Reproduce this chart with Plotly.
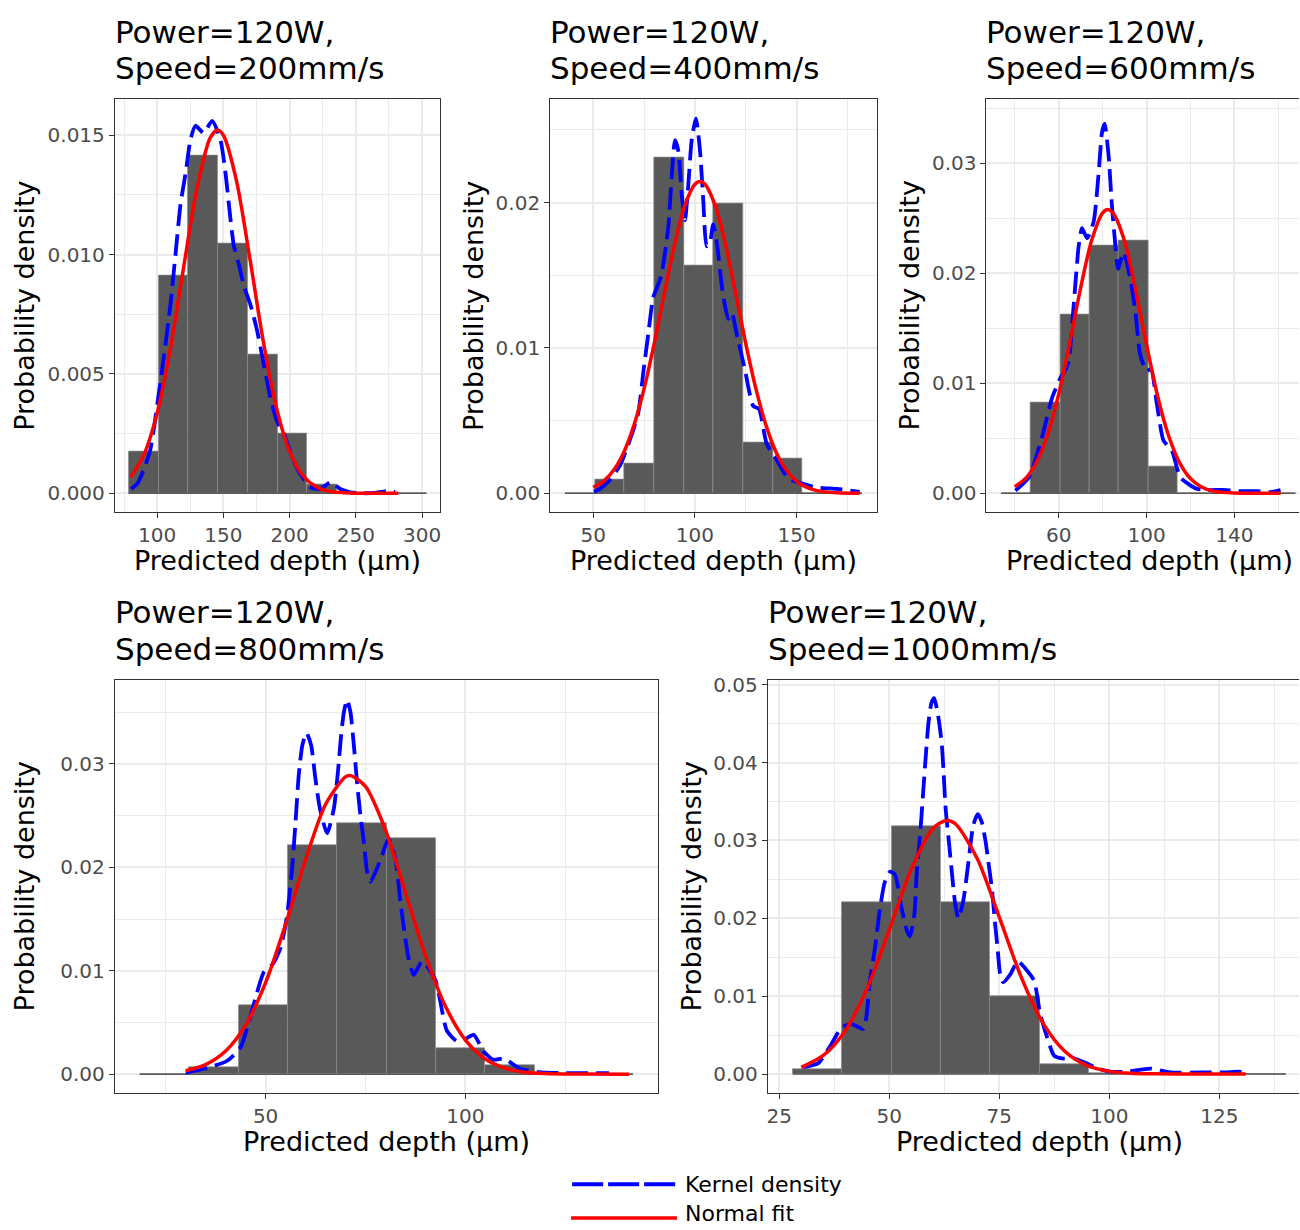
import plotly.graph_objects as go

W, H = 1300, 1230
FONT = "DejaVu Sans"

# ---------------- text ----------------
title_power = "Power=120W,"
title_speeds = ["Speed=200mm/s", "Speed=400mm/s", "Speed=600mm/s",
                "Speed=800mm/s", "Speed=1000mm/s"]
x_title = "Predicted depth (µm)"
y_title = "Probability density"
legend_labels = ["Kernel density", "Normal fit"]

# ---------------- data: Speed = 200 mm/s ----------------
hist_edges_200 = [78.5, 101.0, 123.4, 145.9, 168.4, 190.9, 213.3, 235.8, 258.3, 280.8, 303.3]
hist_dens_200 = [0.00175, 0.00913, 0.01417, 0.01047, 0.00583, 0.00251, 0.00038, 0.0, 0.0, 0.0]
kde_x_200 = [80.3, 85, 89.9, 94.9, 100, 105, 110, 113.8, 117.6, 121.4, 125.1, 128.9, 135,
             141.5, 147.8, 151.6, 155.3, 157.8, 161.6, 165.4, 170.4, 175.5, 180.5, 185.5,
             190.6, 195.6, 201.9, 208.2, 215.7, 223.3, 230.8, 238.3, 245.9, 255, 265, 272,
             277, 279.5]
kde_y_200 = [0.00018, 0.0004, 0.0010, 0.00185, 0.0037, 0.0057, 0.0079, 0.0100, 0.0121,
             0.0134, 0.0148, 0.0154, 0.0151, 0.0156, 0.0148, 0.0134, 0.0115, 0.0104, 0.0096,
             0.0087, 0.0079, 0.0068, 0.0054, 0.0040, 0.0030, 0.0025, 0.0015, 0.0008,
             0.00025, 0.00018, 0.00046, 0.00018, 0.00004, 0.0, 0.00002, 0.00008, 0.0001,
             0.00005]
norm_x_200 = [80, 90, 100, 110, 120, 130, 140, 145.5, 150, 160, 170, 180, 190, 200, 210,
              220, 230, 245, 260, 282]
norm_y_200 = [0.00067, 0.00162, 0.00337, 0.00608, 0.00948, 0.01277, 0.01489, 0.01522,
              0.01500, 0.01306, 0.00983, 0.00640, 0.00360, 0.00175, 0.00074, 0.00027,
              0.00008, 0.00001, 0.0, 0.0]

# ---------------- data: Speed = 400 mm/s ----------------
hist_edges_400 = [36.1, 50.7, 65.3, 79.9, 94.5, 109.1, 123.7, 138.3, 152.9, 167.5, 182.1]
hist_dens_400 = [0.0, 0.00092, 0.00208, 0.02312, 0.01566, 0.01997, 0.00347, 0.0024, 0.0, 0.0]
kde_x_400 = [50.3, 53.3, 58, 63.1, 68.1, 72.1, 74.6, 77.1, 79.5, 81.2, 83.5, 86.9, 88.6,
             90.2, 91.8, 93.5, 95.1, 96.7, 98.4, 100.5, 102.5, 104.1, 105.8, 107.3, 109,
             111, 113.5, 116.4, 118.2, 120.5, 124.6, 128.7, 131.5, 135.3, 140.2, 146, 152,
             160, 170, 181]
kde_y_400 = [0.0001, 0.0003, 0.0009, 0.0019, 0.0037, 0.0055, 0.0083, 0.0110, 0.0135,
             0.0141, 0.0150, 0.0183, 0.0218, 0.0243, 0.0236, 0.0206, 0.0188, 0.0211,
             0.0243, 0.0258, 0.0236, 0.0202, 0.0170, 0.0172, 0.0185, 0.0170, 0.0140,
             0.0120, 0.0124, 0.0110, 0.0085, 0.0060, 0.0058, 0.0034, 0.0023, 0.0010,
             0.0007, 0.0004, 0.0003, 0.0001]
norm_x_400 = [50, 55, 60, 65, 70, 75, 80, 85, 90, 95, 100, 102.5, 105, 110, 115, 120, 125,
              130, 135, 140, 145, 150, 155, 160, 170, 181]
norm_y_400 = [0.0004, 0.00082, 0.00158, 0.00281, 0.00467, 0.0072, 0.01032, 0.01378,
              0.01712, 0.01979, 0.02127, 0.02146, 0.02127, 0.01979, 0.01712, 0.01378,
              0.01032, 0.0072, 0.00467, 0.00281, 0.00158, 0.00082, 0.0004, 0.00018,
              0.00003, 0.0]

# ---------------- data: Speed = 600 mm/s ----------------
hist_edges_600 = [33.8, 47.2, 60.6, 74.0, 87.4, 100.8, 114.2, 127.6, 141.0, 154.4, 167.8]
hist_dens_600 = [0.0, 0.00823, 0.01628, 0.02252, 0.02297, 0.00247, 0.0, 0.0, 0.0, 0.0]
kde_x_600 = [40.3, 46.4, 52.4, 57, 60.8, 62.5, 64.5, 66.8, 69.1, 70.6, 72.9, 75.9, 78.2,
             79.7, 80.9, 82.7, 84.2, 85.8, 87, 89.5, 92.6, 94.9, 97.1, 100.1, 102, 104.7,
             107.7, 111.5, 115.3, 119.1, 123, 128, 135, 142, 150, 156, 161]
kde_y_600 = [0.00024, 0.00145, 0.0051, 0.0087, 0.0105, 0.0110, 0.0120, 0.0171, 0.0225,
             0.0241, 0.0232, 0.0247, 0.0292, 0.0328, 0.0336, 0.0307, 0.0262, 0.0225,
             0.0204, 0.0219, 0.0195, 0.0165, 0.0126, 0.0111, 0.0113, 0.0081, 0.0048,
             0.0039, 0.00145, 0.00084, 0.0004, 0.0003, 0.0003, 0.0002, 0.0002, 0.0001,
             0.0003]
norm_x_600 = [40, 45, 50, 55, 60, 65, 70, 75, 80, 82.4, 85, 90, 95, 100, 105, 110, 115,
              120, 125, 130, 140, 150, 161]
norm_y_600 = [0.0006, 0.00138, 0.00287, 0.00536, 0.00903, 0.0137, 0.0187, 0.0230, 0.0255,
              0.0258, 0.0254, 0.0229, 0.0185, 0.0135, 0.00886, 0.00525, 0.00279, 0.00134,
              0.00058, 0.00022, 0.00002, 0.0, 0.0]

# ---------------- data: Speed = 800 mm/s ----------------
hist_edges_800 = [18.5, 30.85, 43.2, 55.55, 67.9, 80.25, 92.6, 104.95, 117.3, 129.65, 142.0]
hist_dens_800 = [0.0, 0.0007, 0.00667, 0.02214, 0.02431, 0.02284, 0.00256, 0.00085, 0.0, 0.0]
kde_x_800 = [30, 35.4, 40.4, 43.75, 45.4, 47.5, 49.6, 51.7, 53.75, 55.4, 56.7, 57.5, 58.3,
             59.2, 60.25, 61.4, 62.5, 63.6, 65.4, 67.1, 68.1, 68.9, 69.6, 70.4, 71.25,
             72.1, 72.9, 73.75, 74.6, 75.4, 76.25, 77.9, 79.2, 80.8, 82.5, 83.75, 85, 85.8,
             87.1, 89.2, 92.5, 95.4, 97.9, 100, 102.1, 104.6, 107, 109.8, 113.6, 118.4,
             125, 136]
kde_y_800 = [0.00015, 0.0006, 0.0013, 0.0026, 0.0045, 0.0074, 0.0099, 0.0106, 0.0122,
             0.0154, 0.0202, 0.0244, 0.0289, 0.0318, 0.0330, 0.0318, 0.0285, 0.0257,
             0.0233, 0.0257, 0.0292, 0.0327, 0.0350, 0.0362, 0.0350, 0.0318, 0.0282,
             0.0250, 0.0225, 0.0196, 0.0186, 0.0199, 0.0212, 0.0228, 0.0208, 0.0167,
             0.0131, 0.0112, 0.0096, 0.0109, 0.0091, 0.0042, 0.0032, 0.0034, 0.0038,
             0.0022, 0.0014, 0.0015, 0.00055, 0.0002, 0.0001, 0.0001]
norm_x_800 = [30, 35, 40, 45, 50, 55, 60, 65, 70, 71.25, 75, 80, 85, 90, 95, 100, 105, 110,
              115, 120, 130, 141]
norm_y_800 = [0.00034, 0.00093, 0.00224, 0.00475, 0.00885, 0.01447, 0.02073, 0.02607,
              0.02875, 0.02887, 0.02783, 0.02364, 0.0176, 0.0115, 0.00659, 0.00332,
              0.00146, 0.00057, 0.00019, 0.00006, 0.000005, 0.0]

# ---------------- data: Speed = 1000 mm/s ----------------
hist_edges_1000 = [28.1, 39.3, 50.5, 61.7, 72.9, 84.1, 95.3, 106.5, 117.7, 128.9, 140.1]
hist_dens_1000 = [0.0006, 0.0221, 0.0319, 0.0221, 0.00998, 0.00127, 0.0001, 0.0, 0.0, 0.0]
kde_x_1000 = [30.5, 33.9, 36.9, 39.2, 41.5, 44.1, 45.6, 46.75, 47.9, 49, 50.2, 51.3, 52.8,
              53.9, 54.7, 55.7, 56.2, 57, 57.7, 58.3, 58.9, 59.6, 60.2, 61.1, 61.9, 62.3,
              62.8, 63.4, 64.2, 64.9, 65.7, 66.8, 68, 69.1, 70.1, 71, 71.9, 72.5, 73.3,
              74, 74.6, 75.2, 75.9, 77.5, 79.2, 81, 82.9, 84.3, 86.1, 87.4, 89.2, 92,
              94.7, 97.5, 100.2, 104, 109.3, 113.9, 121.2, 126, 129.4, 130.7]
kde_y_1000 = [0.0009, 0.0014, 0.0039, 0.0060, 0.0064, 0.0058, 0.0120, 0.0162, 0.0213,
              0.0247, 0.0260, 0.0256, 0.0213, 0.0186, 0.0177, 0.0205, 0.0256, 0.0307,
              0.0362, 0.0409, 0.0451, 0.0477, 0.0483, 0.0460, 0.0426, 0.0392, 0.0341,
              0.0307, 0.0260, 0.0222, 0.0200, 0.0222, 0.0273, 0.0320, 0.0334, 0.0324,
              0.0298, 0.0273, 0.0239, 0.0196, 0.0162, 0.0128, 0.0118, 0.0128, 0.0145,
              0.0135, 0.0120, 0.0077, 0.0043, 0.0024, 0.0020, 0.0020, 0.0014, 0.0007,
              0.0003, 0.0003, 0.0007, 0.0002, 0.0002, 0.0002, 0.0003, 0.0002]
norm_x_1000 = [30, 35, 40, 45, 50, 55, 60, 63, 65, 70, 75, 80, 85, 90, 95, 100, 105, 110,
               120, 131]
norm_y_1000 = [0.00086, 0.00238, 0.00557, 0.01105, 0.01853, 0.02631, 0.0316, 0.03258,
               0.03215, 0.02766, 0.02016, 0.01241, 0.00648, 0.00286, 0.00107, 0.00034,
               0.00009, 0.00002, 0.0, 0.0]

# ---------------- panel layout (pixels) ----------------
panels = [
    dict(edges=hist_edges_200, dens=hist_dens_200, kx=kde_x_200, ky=kde_y_200,
         nx=norm_x_200, ny=norm_y_200, speed=title_speeds[0],
         box=(114, 93, 440, 508), full_right=440, xr=(68.0, 313.8), yr=(-0.00079, 0.0165),
         xd=50, xt0=0, xm=25, yd=0.005, ym=0.0025, yfmt=".3f", ytx=24, clipped=False),
    dict(edges=hist_edges_400, dens=hist_dens_400, kx=kde_x_400, ky=kde_y_400,
         nx=norm_x_400, ny=norm_y_400, speed=title_speeds[1],
         box=(550, 93, 877, 508), full_right=877, xr=(28.8, 189.4), yr=(-0.0013, 0.0271),
         xd=50, xt0=0, xm=25, yd=0.01, ym=0.005, yfmt=".2f", ytx=474, clipped=False),
    dict(edges=hist_edges_600, dens=hist_dens_600, kx=kde_x_600, ky=kde_y_600,
         nx=norm_x_600, ny=norm_y_600, speed=title_speeds[2],
         box=(987, 93, 1300, 508), full_right=1313, xr=(27.1, 169.4), yr=(-0.00171, 0.0358),
         xd=40, xt0=20, xm=20, yd=0.01, ym=0.005, yfmt=".2f", ytx=910, clipped=True),
    dict(edges=hist_edges_800, dens=hist_dens_800, kx=kde_x_800, ky=kde_y_800,
         nx=norm_x_800, ny=norm_y_800, speed=title_speeds[3],
         box=(114, 677, 658, 1092), full_right=658, xr=(12.25, 148.25), yr=(-0.0018, 0.0381),
         xd=50, xt0=0, xm=25, yd=0.01, ym=0.005, yfmt=".2f", ytx=24, clipped=False),
    dict(edges=hist_edges_1000, dens=hist_dens_1000, kx=kde_x_1000, ky=kde_y_1000,
         nx=norm_x_1000, ny=norm_y_1000, speed=title_speeds[4],
         box=(768, 677, 1300, 1092), full_right=1312, xr=(22.4, 143.1), yr=(-0.00241, 0.0506),
         xd=25, xt0=0, xm=12.5, yd=0.01, ym=0.005, yfmt=".2f", ytx=692, clipped=True),
]

BAR_FILL = "#595959"
BAR_EDGE = "#8c8c8c"
KDE_COLOR = "#0000FF"
NORM_COLOR = "#FF0000"
GRID = "#EBEBEB"
BORDER = "#333333"
TICKFONT = dict(family=FONT, size=20, color="#4D4D4D")

fig = go.Figure()
layout = dict(width=W, height=H, margin=dict(l=0, r=0, t=0, b=0),
              paper_bgcolor="white", plot_bgcolor="white", showlegend=False,
              font=dict(family=FONT, color="black"))
annotations = []
shapes = []


def px_x(v):
    return v / W


def px_y(v):
    return 1 - v / H


for i, p in enumerate(panels, start=1):
    xa = "x" if i == 1 else f"x{i}"
    ya = "y" if i == 1 else f"y{i}"
    edges = p["edges"]
    mids = [(a + b) / 2 for a, b in zip(edges[:-1], edges[1:])]
    widths = [b - a for a, b in zip(edges[:-1], edges[1:])]

    # baseline of the histogram (zero-height bins)
    fig.add_trace(go.Scatter(x=[edges[0], edges[-1]], y=[0, 0], mode="lines",
                             line=dict(color=BAR_FILL, width=1.5), hoverinfo="skip",
                             xaxis=xa, yaxis=ya))
    fig.add_trace(go.Bar(x=mids, y=p["dens"], width=widths,
                         marker=dict(color=BAR_FILL, line=dict(color=BAR_EDGE, width=0.7)),
                         xaxis=xa, yaxis=ya, name="Histogram"))
    fig.add_trace(go.Scatter(x=p["kx"], y=p["ky"], mode="lines", name=legend_labels[0],
                             line=dict(color=KDE_COLOR, width=3.8, dash="22px,8px",
                                       shape="spline", smoothing=0.6),
                             xaxis=xa, yaxis=ya))
    fig.add_trace(go.Scatter(x=p["nx"], y=p["ny"], mode="lines", name=legend_labels[1],
                             line=dict(color=NORM_COLOR, width=3.5, shape="spline",
                                       smoothing=0.8),
                             xaxis=xa, yaxis=ya))

    x0, y0, x1, y1 = p["box"]
    xkey = "xaxis" if i == 1 else f"xaxis{i}"
    ykey = "yaxis" if i == 1 else f"yaxis{i}"
    layout[xkey] = dict(
        domain=[px_x(x0), px_x(x1)], range=list(p["xr"]), anchor=ya,
        tickmode="linear", tick0=p["xt0"], dtick=p["xd"],
        showgrid=True, gridcolor=GRID, gridwidth=1.5, zeroline=False,
        minor=dict(tick0=0, dtick=p["xm"], showgrid=True, gridcolor=GRID, gridwidth=0.9),
        showline=True, mirror=True, linecolor=BORDER, linewidth=1,
        ticks="outside", ticklen=5, tickcolor=BORDER, tickwidth=1,
        tickfont=TICKFONT, fixedrange=True)
    layout[ykey] = dict(
        domain=[px_y(y1), px_y(y0)], range=list(p["yr"]), anchor=xa,
        tickmode="linear", tick0=0, dtick=p["yd"], tickformat=p["yfmt"],
        showgrid=True, gridcolor=GRID, gridwidth=1.5, zeroline=False,
        minor=dict(tick0=0, dtick=p["ym"], showgrid=True, gridcolor=GRID, gridwidth=0.9),
        showline=True, mirror=(not p["clipped"]), linecolor=BORDER, linewidth=1,
        ticks="outside", ticklen=5, tickcolor=BORDER, tickwidth=1,
        tickfont=TICKFONT, fixedrange=True)

    # panel titles (two lines)
    annotations.append(dict(text=title_power, xref="paper", yref="paper",
                            x=px_x(x0 - 2), y=px_y(y0 - 68.3), xanchor="left", yanchor="middle",
                            showarrow=False, font=dict(family=FONT, size=31, color="black")))
    annotations.append(dict(text=p["speed"], xref="paper", yref="paper",
                            x=px_x(x0 - 2), y=px_y(y0 - 31.7), xanchor="left", yanchor="middle",
                            showarrow=False, font=dict(family=FONT, size=31, color="black")))
    # axis titles
    annotations.append(dict(text=x_title, xref="paper", yref="paper",
                            x=px_x((x0 + p["full_right"]) / 2), y=px_y(y1 + 49),
                            xanchor="center", yanchor="middle", showarrow=False,
                            font=dict(family=FONT, size=27, color="black")))
    annotations.append(dict(text=y_title, xref="paper", yref="paper", textangle=-90,
                            x=px_x(p["ytx"]), y=px_y((y0 + y1) / 2),
                            xanchor="center", yanchor="middle", showarrow=False,
                            font=dict(family=FONT, size=27, color="black")))

# ---------------- legend (drawn manually, bottom centre) ----------------
shapes.append(dict(type="line", xref="paper", yref="paper",
                   x0=px_x(572), x1=px_x(676), y0=px_y(1184), y1=px_y(1184),
                   line=dict(color=KDE_COLOR, width=4, dash="31px,5px")))
shapes.append(dict(type="line", xref="paper", yref="paper",
                   x0=px_x(571), x1=px_x(677), y0=px_y(1218), y1=px_y(1218),
                   line=dict(color=NORM_COLOR, width=3.5)))
annotations.append(dict(text=legend_labels[0], xref="paper", yref="paper",
                        x=px_x(683), y=px_y(1184), xanchor="left", yanchor="middle",
                        showarrow=False, font=dict(family=FONT, size=22, color="black")))
annotations.append(dict(text=legend_labels[1], xref="paper", yref="paper",
                        x=px_x(683), y=px_y(1213), xanchor="left", yanchor="middle",
                        showarrow=False, font=dict(family=FONT, size=22, color="black")))

layout["annotations"] = annotations
layout["shapes"] = shapes
layout["bargap"] = 0
fig.update_layout(**layout)

fig.write_html("out.html", include_plotlyjs=True, config={"displayModeBar": False})
